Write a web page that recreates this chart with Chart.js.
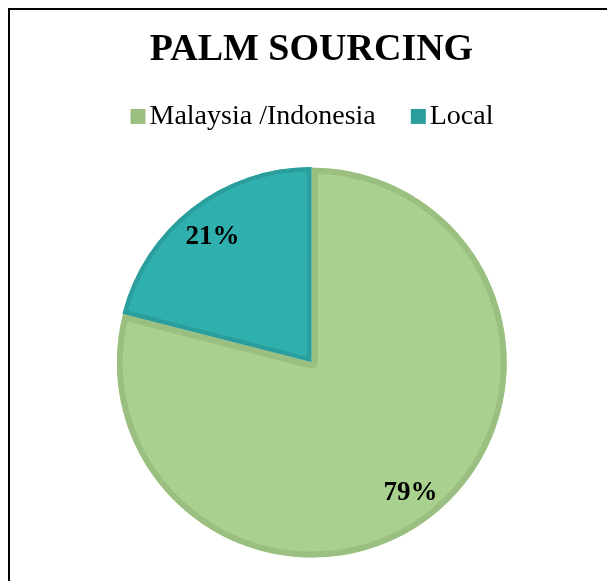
<!DOCTYPE html>
<html>
<head>
<meta charset="utf-8">
<script src="https://cdn.jsdelivr.net/npm/chart.js@4.4.1/dist/chart.umd.min.js"></script>
<style>
  html, body { margin: 0; padding: 0; background: #fff; overflow: hidden; }
  #wrap { position: relative; width: 607px; height: 581px; }
  #frame {
    position: absolute; left: 8px; top: 8px; width: 700px; height: 700px;
    border-left: 2px solid #000; border-top: 2px solid #000;
  }
  #chartBox { position: absolute; left: 0; top: 0; width: 607px; height: 581px; }
</style>
</head>
<body>
<div id="wrap">
  <div id="frame"></div>
  <div id="chartBox"><canvas id="palm"></canvas></div>
</div>
<script>
// data
let labels = ['Malaysia /Indonesia', 'Local'];
let shares = [79, 21];

let fills = ['#a9d18e', '#2fafad'];
let borders = ['#9bbf80', '#2a9e9c'];

let serif = "'Liberation Serif', 'Times New Roman', serif";

// legend square sits close to its text, like the office legend
function swatch(color) {
    let c = document.createElement('canvas');
    c.width = 30;
    c.height = 19;
    let g = c.getContext('2d');
    g.fillStyle = color;
    g.fillRect(13, 2, 15, 15);
    return c;
}

// percent labels inside the slices
const pctLabels = {
    id: 'pctLabels',
    afterDatasetsDraw(chart) {
        let ctx = chart.ctx;
        let meta = chart.getDatasetMeta(0);
        let total = shares.reduce((a, b) => a + b, 0);
        ctx.save();
        ctx.font = 'bold 27px ' + serif;
        ctx.fillStyle = '#000';
        ctx.textAlign = 'center';
        ctx.textBaseline = 'middle';
        meta.data.forEach((arc, i) => {
            let mid = (arc.startAngle + arc.endAngle) / 2;
            let r = arc.outerRadius * 0.83;
            let x = arc.x + Math.cos(mid) * r;
            let y = arc.y + Math.sin(mid) * r + 3;
            ctx.fillText(Math.round(shares[i] / total * 100) + '%', x, y);
        });
        ctx.restore();
    }
};

// extra room under the legend
const legendGap = {
    id: 'legendGap',
    beforeInit(chart) {
        let fit = chart.legend.fit;
        chart.legend.fit = function () {
            fit.bind(chart.legend)();
            this.height += 26;
        };
    }
};

let ctx = document.querySelector('#palm');
var palmChart = new Chart(ctx, {
    type: 'pie',
    data: {
        labels: labels,
        datasets: [{
            data: shares,
            backgroundColor: fills,
            borderColor: borders,
            borderWidth: [6, 4],
            borderAlign: 'inner',
            offset: 2
        }]
    },
    options: {
        responsive: true,
        maintainAspectRatio: false,
        animation: false,
        layout: {
            padding: { top: 22, left: 16, right: 0, bottom: 23 }
        },
        plugins: {
            title: {
                display: true,
                text: 'PALM SOURCING',
                color: '#000',
                font: { family: serif, size: 38, weight: 'bold', lineHeight: 0.8 },
                padding: { top: 13, bottom: 3 }
            },
            legend: {
                position: 'top',
                labels: {
                    color: '#000',
                    font: { family: serif, size: 28 },
                    usePointStyle: true,
                    pointStyleWidth: 6,
                    boxHeight: 15,
                    padding: 34,
                    generateLabels(chart) {
                        return labels.map((l, i) => ({
                            text: l,
                            fillStyle: borders[i],
                            strokeStyle: borders[i],
                            lineWidth: 0,
                            pointStyle: swatch(borders[i]),
                            hidden: false,
                            index: i
                        }));
                    }
                }
            },
            tooltip: { enabled: false }
        }
    },
    plugins: [pctLabels, legendGap]
});
</script>
</body>
</html>
